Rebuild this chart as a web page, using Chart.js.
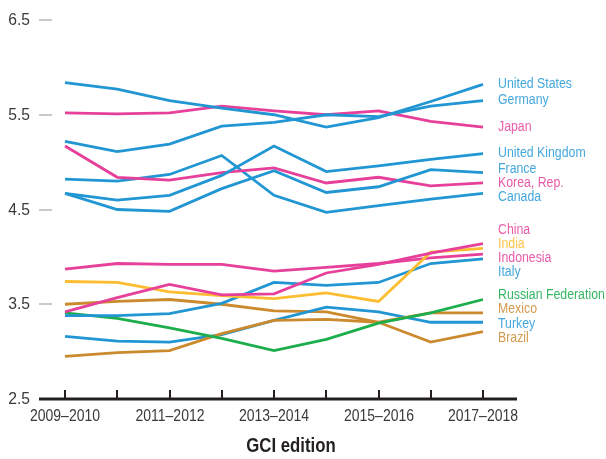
<!DOCTYPE html>
<html>
<head>
<meta charset="utf-8">
<script src="https://cdn.jsdelivr.net/npm/chart.js@4.4.1/dist/chart.umd.min.js"></script>
<style>
  html,body{margin:0;padding:0;background:#fff;}
  #wrap{width:606px;height:459px;position:relative;}
</style>
</head>
<body>
<div id="wrap"><canvas id="gci-chart" width="606" height="459"></canvas></div>
<script>
// ── data ──
const EDITIONS = ['2009–2010','2010–2011','2011–2012','2012–2013','2013–2014','2014–2015','2015–2016','2016–2017','2017–2018'];
const Y_TICKS = [2.5, 3.5, 4.5, 5.5, 6.5];
const X_TITLE = 'GCI edition';

const US        = [5.84, 5.77, 5.65, 5.57, 5.50, 5.37, 5.47, 5.64, 5.82];
const GERMANY   = [5.22, 5.11, 5.19, 5.38, 5.42, 5.50, 5.48, 5.59, 5.65];
const JAPAN     = [5.52, 5.51, 5.52, 5.59, 5.54, 5.50, 5.54, 5.43, 5.37];
const UK        = [4.67, 4.60, 4.65, 4.86, 5.17, 4.90, 4.96, 5.03, 5.09];
const FRANCE    = [4.67, 4.50, 4.48, 4.72, 4.91, 4.68, 4.74, 4.92, 4.89];
const KOREA     = [5.17, 4.84, 4.81, 4.89, 4.94, 4.78, 4.84, 4.75, 4.78];
const CANADA    = [4.82, 4.80, 4.87, 5.07, 4.65, 4.47, 4.54, 4.61, 4.67];
const CHINA     = [3.42, 3.57, 3.71, 3.60, 3.61, 3.83, 3.92, 4.04, 4.14];
const INDIA     = [3.74, 3.73, 3.63, 3.59, 3.56, 3.62, 3.53, 4.05, 4.09];
const INDONESIA = [3.87, 3.93, 3.92, 3.92, 3.85, 3.89, 3.93, 3.99, 4.03];
const ITALY     = [3.38, 3.38, 3.40, 3.51, 3.73, 3.70, 3.73, 3.93, 3.98];
const RUSSIA    = [3.41, 3.35, 3.25, 3.14, 3.01, 3.13, 3.30, 3.41, 3.55];
const MEXICO    = [2.95, 2.99, 3.01, 3.19, 3.33, 3.34, 3.31, 3.41, 3.41];
const TURKEY    = [3.16, 3.11, 3.10, 3.18, 3.33, 3.47, 3.42, 3.31, 3.31];
const BRAZIL    = [3.50, 3.53, 3.55, 3.50, 3.43, 3.42, 3.31, 3.10, 3.21];

const COL = {
  blue:   {line:'#2196d3', text:'#45a7dd'},
  pink:   {line:'#e6409a', text:'#e95ba8'},
  yellow: {line:'#fdbd30', text:'#fdc54a'},
  green:  {line:'#1cae4c', text:'#36b663'},
  brown:  {line:'#cc8a2e', text:'#d49a4c'}
};

const SERIES = [
  ['United States', US, 'blue'],
  ['Germany', GERMANY, 'blue'],
  ['Japan', JAPAN, 'pink'],
  ['United Kingdom', UK, 'blue'],
  ['France', FRANCE, 'blue'],
  ['Korea, Rep.', KOREA, 'pink'],
  ['Canada', CANADA, 'blue'],
  ['China', CHINA, 'pink'],
  ['India', INDIA, 'yellow'],
  ['Indonesia', INDONESIA, 'pink'],
  ['Italy', ITALY, 'blue'],
  ['Russian Federation', RUSSIA, 'green'],
  ['Mexico', MEXICO, 'brown'],
  ['Turkey', TURKEY, 'blue'],
  ['Brazil', BRAZIL, 'brown']
];

const FONT = "'Liberation Sans', Arial, sans-serif";

// no narrow face installed, so squeeze a regular one horizontally
function narrowText(ctx, txt, x, y, opt){
  ctx.save();
  ctx.font = `${opt.bold?'bold ':''}${opt.size}px ${FONT}`;
  ctx.fillStyle = opt.color;
  ctx.textAlign = opt.align || 'left';
  ctx.textBaseline = 'middle';
  ctx.translate(x, y);
  ctx.scale(opt.sx || 0.88, 1);
  ctx.fillText(txt, 0, 0);
  ctx.restore();
}

// axis line, inner tick marks, grey y dashes, tick text, end labels, axis title
const decor = {
  id:'gci-decor',
  afterDatasetsDraw(chart){
    const {ctx, chartArea:a, scales:{x, y}} = chart;
    ctx.save();

    // y labels + grey dashes
    ctx.strokeStyle = '#c9c9c9'; ctx.lineWidth = 2;
    Y_TICKS.forEach((v, i) => {
      const py = Math.round(y.getPixelForValue(v));
      if(i > 0){
        ctx.beginPath(); ctx.moveTo(a.left-26, py); ctx.lineTo(a.left-13, py); ctx.stroke();
      }
      narrowText(ctx, v.toFixed(1), a.left-35, py, {size:16.5, color:'#3a3a3a', align:'right', sx:0.95});
    });

    // baseline + tick marks pointing up
    const by = y.getPixelForValue(Y_TICKS[0]);
    ctx.strokeStyle = '#231f20';
    ctx.lineWidth = 3;
    ctx.beginPath(); ctx.moveTo(a.left-26, by); ctx.lineTo(a.right+34, by); ctx.stroke();
    ctx.lineWidth = 2;
    EDITIONS.forEach((e, i) => {
      const px = Math.round(x.getPixelForValue(i));
      ctx.beginPath(); ctx.moveTo(px, by-9); ctx.lineTo(px, by); ctx.stroke();
      if(i % 2 === 0) narrowText(ctx, e, px, by+18, {size:16, color:'#3a3a3a', align:'center', sx:0.875});
    });

    // series labels at the right, pushed apart where they crowd
    const last = EDITIONS.length - 1;
    const lab = chart.data.datasets.map(ds => ({
      text: ds.label, color: ds.labelColor,
      y: y.getPixelForValue(ds.data[last])
    })).sort((p, q) => p.y - q.y);
    const GAP = 14.2;
    for(let it=0; it<200; it++){
      let moved = false;
      for(let i=0; i<lab.length-1; i++){
        const d = lab[i+1].y - lab[i].y;
        if(d < GAP - 0.01){
          const s = (GAP - d) / 2;
          lab[i].y -= s; lab[i+1].y += s; moved = true;
        }
      }
      if(!moved) break;
    }
    const lx = x.getPixelForValue(last) + 15;
    lab.forEach(l => narrowText(ctx, l.text, lx, l.y, {size:14, color:l.color, sx:0.88}));

    // x axis title
    narrowText(ctx, X_TITLE, (a.left + a.right)/2 + 17, 447, {size:19.5, bold:true, color:'#231f20', align:'center', sx:0.86});

    ctx.restore();
  }
};

new Chart(document.getElementById('gci-chart'), {
  type:'line',
  data:{
    labels: EDITIONS,
    datasets: SERIES.map(([name, vals, c]) => ({
      label: name,
      data: vals,
      borderColor: COL[c].line,
      labelColor: COL[c].text,
      borderWidth: 2.8,
      pointRadius: 0,
      tension: 0,
      fill: false
    }))
  },
  options:{
    responsive:false,
    animation:false,
    layout:{ autoPadding:false, padding:{ left:65, right:123, top:20, bottom:60 } },
    plugins:{ legend:{display:false}, tooltip:{enabled:false} },
    scales:{
      x:{
        offset:false,
        grid:{display:false, drawTicks:false},
        border:{display:false},
        ticks:{display:false}
      },
      y:{
        min: Y_TICKS[0], max: Y_TICKS[Y_TICKS.length-1],
        grid:{display:false, drawTicks:false},
        border:{display:false},
        ticks:{display:false}
      }
    }
  },
  plugins:[decor]
});
</script>
</body>
</html>
